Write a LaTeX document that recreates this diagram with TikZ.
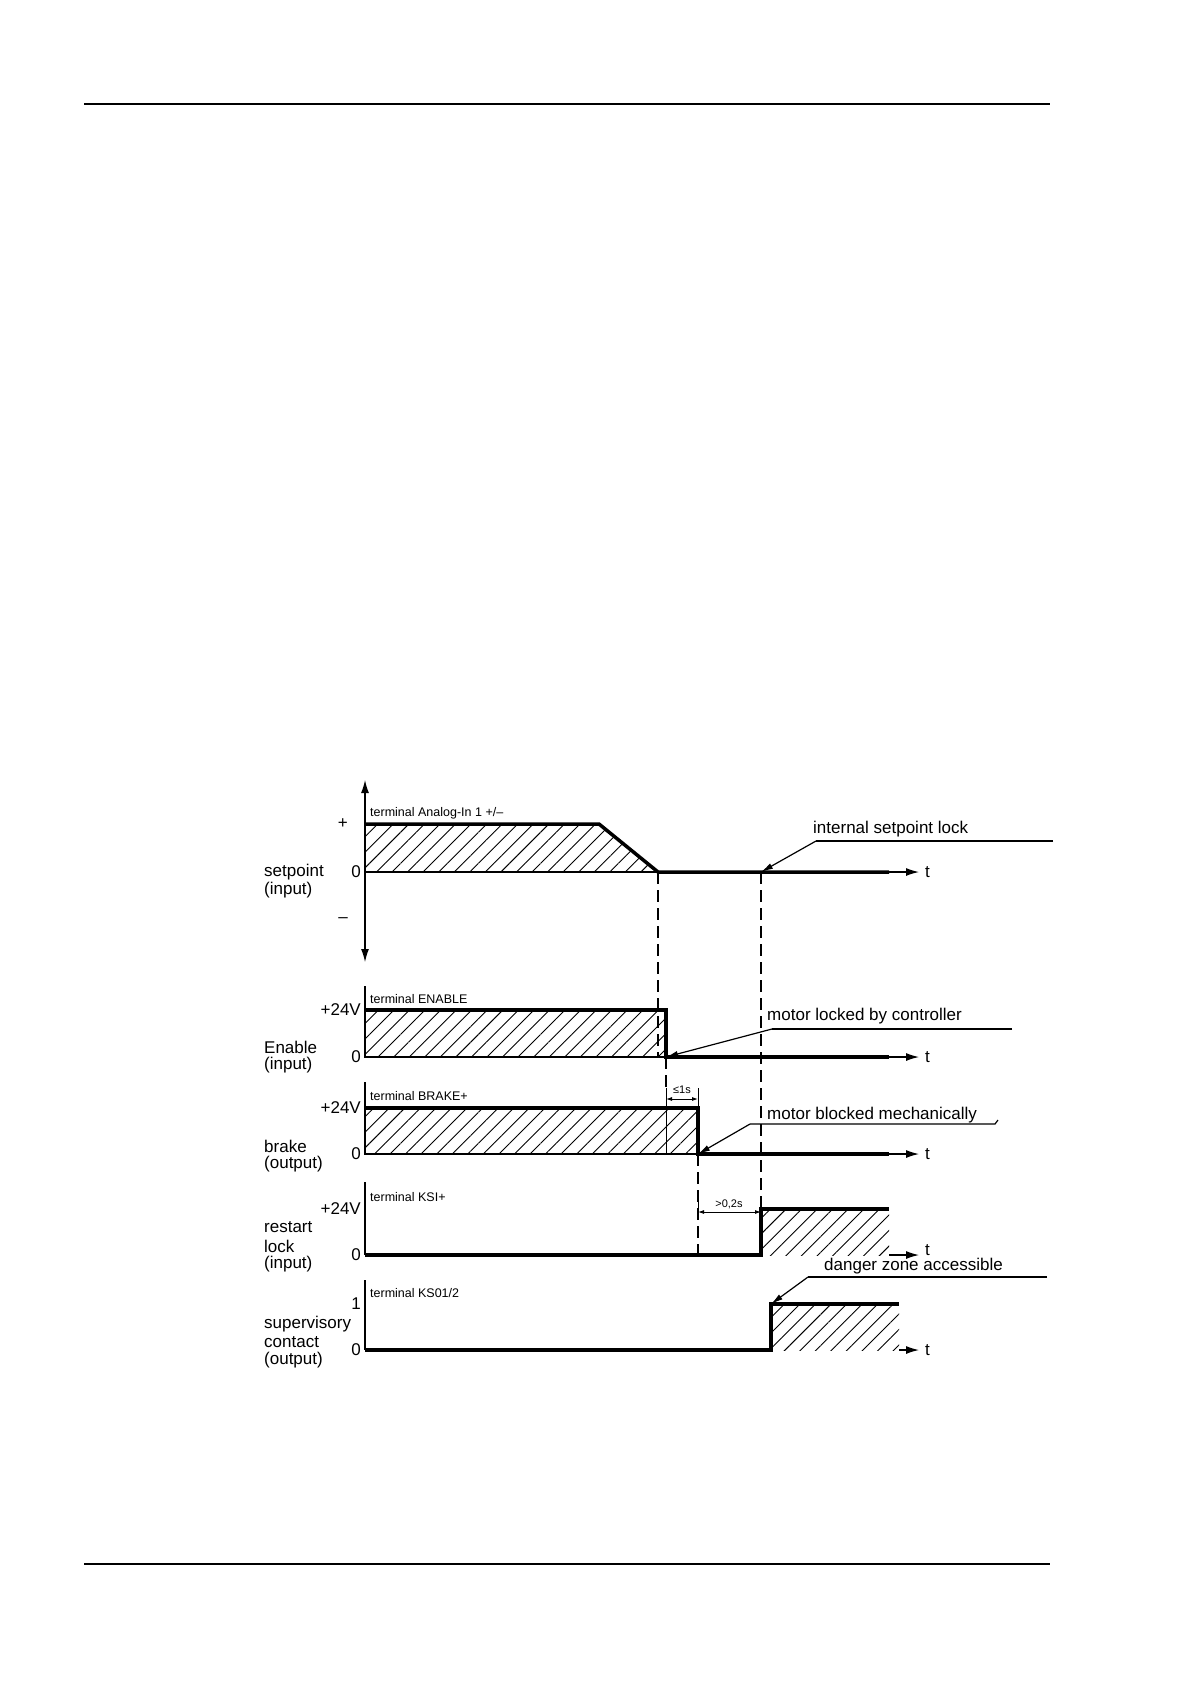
\documentclass[tikz,border=0pt]{standalone}
\usepackage{fontspec}
\setmainfont{Liberation Sans}
\usetikzlibrary{patterns.meta,arrows.meta}

\tikzset{
  sig/.style={line width=3.5pt},
  thin/.style={line width=1.2pt},
  hatch/.style={pattern={Lines[angle=45,distance=11pt,line width=0.9pt]}},
  tarrow/.style={line width=1.2pt,-{Latex[length=13pt,width=8pt]}},
  lbl/.style={font=\fontsize{17}{19}\selectfont,inner sep=0pt},
  term/.style={font=\fontsize{12.5}{14}\selectfont,inner sep=0pt,anchor=west},
  note/.style={font=\fontsize{17}{19}\selectfont,inner sep=0pt,anchor=west},
  leader/.style={thin,-{Latex[length=12pt,width=6pt]}},
  dim/.style={line width=0.9pt,{Latex[length=6pt,width=4pt]}-{Latex[length=6pt,width=4pt]}},
  guide/.style={line width=1.2pt,dash pattern=on 12pt off 6pt}
}

\begin{document}
\begin{tikzpicture}[x=1pt,y=-1pt]
  \useasboundingbox (0,0) rectangle (1191,1684);
  % page rules
  \draw[line width=1.5pt] (84,104) -- (1050,104);
  \draw[line width=1.5pt] (84,1564) -- (1050,1564);

  % setpoint
  \fill[hatch] (365,824) -- (599,824) -- (658,872) -- (365,872) -- cycle;
  \draw[thin] (365,872) -- (658,872);
  \draw[line width=1.2pt,{Latex[length=13pt,width=8pt]}-{Latex[length=13pt,width=8pt]}] (365,780) -- (365,962);
  \draw[sig] (365,824) -- (599,824) -- (658,872) -- (889,872);
  \draw[tarrow] (889,872) -- (919,872);
  \node[term] (tana) at (370,813) {terminal Analog-In 1 +/--};
  \node[lbl,anchor=east] (pl) at (348,824) {+};
  \node[lbl,anchor=east] (zr) at (361,872) {0};
  \node[lbl,anchor=east] (mi) at (348,920) {--};
  \node[lbl,anchor=west] (sp) at (264,872) {setpoint};
  \node[lbl,anchor=west] (spi) at (264,890) {(input)};
  \node[note] (t1) at (925,872) {t};
  \node[note] (isl) at (813,829) {internal setpoint lock};
  \draw[thin] (1053,841) -- (816,841);
  \draw[leader] (816,841) -- (761,872);

  % enable
  \fill[hatch] (365,1010) rectangle (666,1057);
  \draw[thin] (365,986) -- (365,1057) -- (666,1057);
  \draw[sig] (365,1010) -- (666,1010) -- (666,1057) -- (889,1057);
  \draw[tarrow] (889,1057) -- (919,1057);
  \node[term] (ten) at (370,999) {terminal ENABLE};
  \node[lbl,anchor=east] (en24) at (361,1010) {+24V};
  \node[lbl,anchor=east] (en0) at (361,1057) {0};
  \node[lbl,anchor=west] (en) at (264,1047) {Enable};
  \node[lbl,anchor=west] (eni) at (264,1065) {(input)};
  \node[note] (t2) at (925,1057) {t};
  \node[note] (mlc) at (767,1016) {motor locked by controller};
  \draw[thin] (1012,1029) -- (772,1029);
  \draw[leader] (772,1029) -- (666,1057);

  % brake
  \fill[hatch] (365,1108) rectangle (698,1154);
  \draw[thin] (365,1082) -- (365,1154) -- (698,1154);
  \draw[sig] (365,1108) -- (698,1108) -- (698,1154) -- (889,1154);
  \draw[tarrow] (889,1154) -- (919,1154);
  \node[term] (tbr) at (370,1096) {terminal BRAKE+};
  \node[lbl,anchor=east] (br24) at (361,1108) {+24V};
  \node[lbl,anchor=east] (br0) at (361,1154) {0};
  \node[lbl,anchor=west] (br) at (264,1146) {brake};
  \node[lbl,anchor=west] (bro) at (264,1164) {(output)};
  \node[note] (t3) at (925,1154) {t};
  \draw[line width=0.9pt] (666,1088) -- (666,1154);
  \draw[line width=0.9pt] (698,1088) -- (698,1108);
  \draw[dim] (666,1099) -- (698,1099);
  \node[font=\fontsize{11}{12}\selectfont,inner sep=0pt] (d1) at (682,1090) {≤1s};
  \node[note] (mbm) at (767,1115) {motor blocked mechanically};
  \draw[thin] (998,1120) -- (995,1124) -- (750,1124);
  \draw[leader] (750,1124) -- (698,1154);

  % restart lock
  \fill[hatch] (761,1209) rectangle (889,1255);
  \draw[thin] (365,1182) -- (365,1255);
  \draw[sig] (365,1255) -- (761,1255) -- (761,1209) -- (889,1209);
  \draw[tarrow] (889,1255) -- (919,1255);
  \node[term] (tksi) at (370,1197) {terminal KSI+};
  \node[lbl,anchor=east] (rl24) at (361,1209) {+24V};
  \node[lbl,anchor=east] (rl0) at (361,1255) {0};
  \node[lbl,anchor=west] (rl1) at (264,1227) {restart};
  \node[lbl,anchor=west] (rl2) at (264,1246) {lock};
  \node[lbl,anchor=west] (rl3) at (264,1264) {(input)};
  \node[note] (t4) at (925,1250) {t};
  \draw[line width=0.9pt] (698,1200) -- (698,1215);
  \draw[dim] (698,1212) -- (761,1212);
  \node[font=\fontsize{11}{12}\selectfont,inner sep=0pt] (d2) at (729,1204) {>0,2s};

  % supervisory contact
  \fill[hatch] (771,1304) rectangle (899,1350);
  \draw[thin] (365,1280) -- (365,1350);
  \draw[sig] (365,1350) -- (771,1350) -- (771,1304) -- (899,1304);
  \draw[tarrow] (899,1350) -- (919,1350);
  \node[term] (tks) at (370,1293) {terminal KS01/2};
  \node[lbl,anchor=east] (sc1) at (361,1304) {1};
  \node[lbl,anchor=east] (sc0) at (361,1350) {0};
  \node[lbl,anchor=west] (sc) at (264,1324) {supervisory};
  \node[lbl,anchor=west] (scc) at (264,1342) {contact};
  \node[lbl,anchor=west] (sco) at (264,1360) {(output)};
  \node[note] (t5) at (925,1350) {t};
  \node[note] (dza) at (824,1266) {danger zone accessible};
  \draw[thin] (1047,1277) -- (808,1277);
  \draw[leader] (808,1277) -- (771,1304);

  % guide lines
  \draw[guide] (658,872) -- (658,1057);
  \draw[guide] (666,1057) -- (666,1090);
  \draw[guide] (698,1154) -- (698,1255);
  \draw[guide] (761,872) -- (761,1209);
\end{tikzpicture}
\end{document}
